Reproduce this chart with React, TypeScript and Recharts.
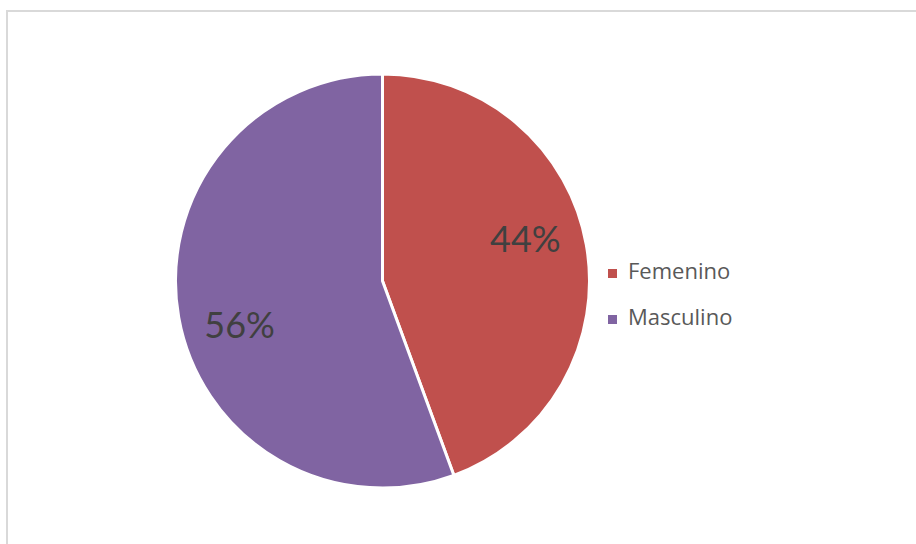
import React from "react";
import { PieChart, Pie, Cell, Legend } from "recharts";

const categories = ["Femenino", "Masculino"];
const values = [44.4, 55.6];
const colors = ["#C0504D", "#8064A2"];

const data = categories.map((name, i) => ({ name, value: values[i] }));
const RADIAN = Math.PI / 180;

const renderLabel = (props: any) => {
  const { cx, cy, midAngle, outerRadius, percent } = props;
  const r = outerRadius * 0.72;
  const a = (midAngle + 6.5) * RADIAN;
  const x = cx + r * Math.cos(-a);
  const y = cy + r * Math.sin(-a);
  return (
    <text
      x={x}
      y={y}
      textAnchor="middle"
      dominantBaseline="central"
      fill="#404040"
      fontSize={36}
      fontFamily="Lato, 'Noto Sans', sans-serif"
    >
      {`${Math.round(percent * 100)}%`}
    </text>
  );
};

const renderLegend = (props: any) => {
  const { payload } = props;
  return (
    <div style={{ fontFamily: "'Open Sans', 'Noto Sans', sans-serif" }}>
      {payload.map((entry: any, i: number) => (
        <div
          key={i}
          style={{ display: "flex", alignItems: "center", height: 46 }}
        >
          <span
            style={{
              display: "inline-block",
              width: 9,
              height: 9,
              background: entry.color,
              marginRight: 11,
            }}
          />
          <span
            style={{
              fontSize: 22,
              color: "#595959",
              lineHeight: "22px",
              position: "relative",
              top: -3,
            }}
          >
            {entry.value}
          </span>
        </div>
      ))}
    </div>
  );
};

export default function App() {
  return (
    <div style={{ position: "fixed", left: 0, top: 0, width: 916, height: 544, background: "#fff" }}>
      <div
        style={{
          position: "absolute",
          left: 6,
          top: 10,
          width: 910,
          height: 534,
          borderTop: "2px solid #d9d9d9",
          borderLeft: "2px solid #d9d9d9",
          boxSizing: "border-box",
        }}
      />
      <div style={{ position: "absolute", left: 0, top: 0 }}>
        <PieChart width={916} height={544} margin={{ top: 0, right: 0, bottom: 0, left: 0 }}>
          <Pie
            data={data}
            dataKey="value"
            nameKey="name"
            cx={382.5}
            cy={281}
            outerRadius={207}
            startAngle={90}
            endAngle={-270}
            stroke="#ffffff"
            strokeWidth={3}
            label={renderLabel}
            labelLine={false}
            isAnimationActive={false}
          >
            {data.map((d, i) => (
              <Cell key={d.name} fill={colors[i]} />
            ))}
          </Pie>
          <Legend
            layout="vertical"
            content={renderLegend}
            wrapperStyle={{ left: 608, top: 250, width: 200 }}
          />
        </PieChart>
      </div>
    </div>
  );
}
